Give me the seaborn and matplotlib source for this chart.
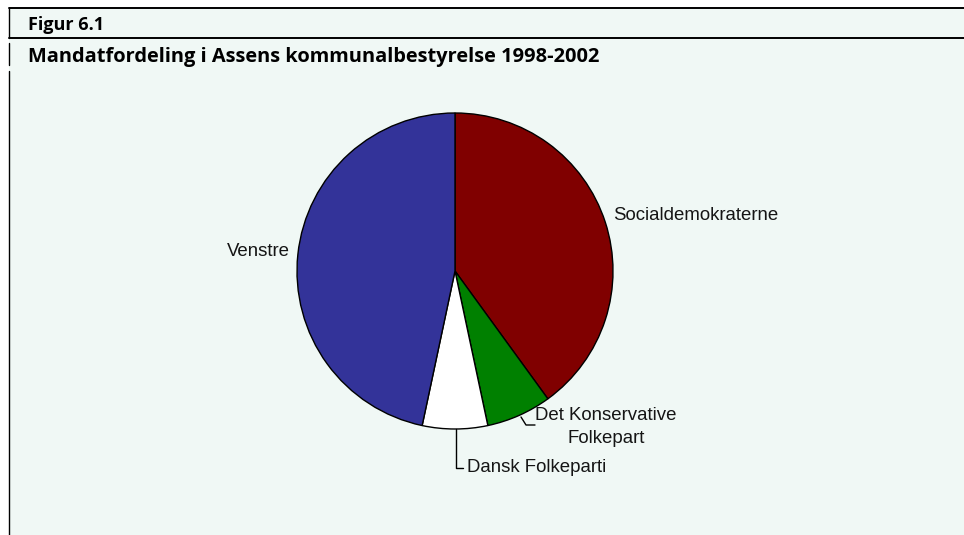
import matplotlib
matplotlib.use("Agg")
import matplotlib.pyplot as plt
import seaborn as sns
from matplotlib.lines import Line2D
from matplotlib.patches import Rectangle

sns.set_theme(style="white")
plt.rcParams['font.family'] = ['Liberation Sans', 'DejaVu Sans']

parties = ["Socialdemokraterne", "Det Konservative\nFolkepart", "Dansk Folkeparti", "Venstre"]
seats = [6, 1, 1, 7]
colors = ["#800000", "#008000", "#FFFFFF", "#333399"]

W, H = 964, 535
fig = plt.figure(figsize=(W / 100, H / 100), dpi=100)
fig.patch.set_facecolor("white")
ax = fig.add_axes([0, 0, 1, 1])
ax.set_xlim(0, W)
ax.set_ylim(0, H)
ax.set_aspect("equal")
ax.axis("off")

def Y(y):
    return H - y

bg = "#F0F8F5"
ax.add_patch(Rectangle((9, 0), W - 9, Y(8), facecolor=bg, edgecolor="none", zorder=0))

# header lines
ax.add_line(Line2D([9, W], [Y(8), Y(8)], color="black", lw=1.4))
ax.add_line(Line2D([9, W], [Y(38), Y(38)], color="black", lw=1.4))
for a, b in [(8, 38), (43, 65), (71, 535)]:
    ax.add_line(Line2D([9, 9], [Y(a), Y(b)], color="black", lw=1.0))

title_font = ['Liberation Sans Narrow', 'Open Sans', 'DejaVu Sans']
ax.text(28, Y(25), "Figur 6.1", fontsize=13, fontweight="bold", family=title_font,
        ha="left", va="center", color="black")
ax.text(28, Y(57), "Mandatfordeling i Assens kommunalbestyrelse 1998-2002", fontsize=14.4,
        fontweight="bold", family=title_font, ha="left", va="center", color="black")

cx, cy, r = 455, Y(271), 158
ax.pie(seats, colors=colors, startangle=90, counterclock=False, center=(cx, cy), radius=r,
       wedgeprops=dict(edgecolor="black", linewidth=1.0), frame=True)
ax.set_xlim(0, W)
ax.set_ylim(0, H)
ax.axis("off")

fs = 13.4
tc = "#151515"
ax.text(613, Y(215), parties[0], fontsize=fs, ha="left", va="center", color=tc)
ax.text(290, Y(251), parties[3], fontsize=fs, ha="right", va="center", color=tc)
ax.text(606, Y(427), parties[1], fontsize=fs, ha="center", va="center", color=tc,
        multialignment="center", linespacing=1.45)
ax.text(467, Y(468), parties[2], fontsize=fs, ha="left", va="center", color=tc)

# leader lines
ax.add_line(Line2D([521, 526, 535], [Y(417), Y(425), Y(425)], color="black", lw=1.0))
ax.add_line(Line2D([456, 456, 463], [Y(429), Y(468), Y(468)], color="black", lw=1.0))

fig.savefig("out.png", dpi=100, facecolor=fig.get_facecolor())
